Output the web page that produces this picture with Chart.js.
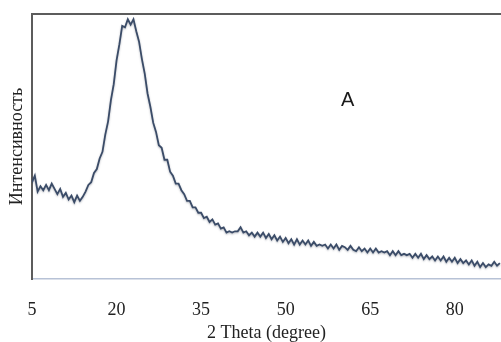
<!DOCTYPE html>
<html>
<head>
<meta charset="utf-8">
<script src="https://cdn.jsdelivr.net/npm/chart.js@4/dist/chart.umd.min.js"></script>
<style>
  html, body { margin: 0; padding: 0; background: #fff; }
  #wrap { width: 501px; height: 342px; }
</style>
</head>
<body>
<div id="wrap"><canvas id="xrd"></canvas></div>
<script>
(function () {
  'use strict';

  // 2 theta positions (degrees)
  const THETA = [
    5, 5.5, 6, 6.5, 7, 7.5, 8, 8.5, 9, 9.5, 10, 10.5, 11, 11.5, 12, 12.5, 13, 13.5, 14, 14.5,
    15, 15.5, 16, 16.5, 17, 17.5, 18, 18.5, 19, 19.5, 20, 20.5, 21, 21.5, 22, 22.5, 23, 23.5, 24, 24.5,
    25, 25.5, 26, 26.5, 27, 27.5, 28, 28.5, 29, 29.5, 30, 30.5, 31, 31.5, 32, 32.5, 33, 33.5, 34, 34.5,
    35, 35.5, 36, 36.5, 37, 37.5, 38, 38.5, 39, 39.5, 40, 40.5, 41, 41.5, 42, 42.5, 43, 43.5, 44, 44.5,
    45, 45.5, 46, 46.5, 47, 47.5, 48, 48.5, 49, 49.5, 50, 50.5, 51, 51.5, 52, 52.5, 53, 53.5, 54, 54.5,
    55, 55.5, 56, 56.5, 57, 57.5, 58, 58.5, 59, 59.5, 60, 60.5, 61, 61.5, 62, 62.5, 63, 63.5, 64, 64.5,
    65, 65.5, 66, 66.5, 67, 67.5, 68, 68.5, 69, 69.5, 70, 70.5, 71, 71.5, 72, 72.5, 73, 73.5, 74, 74.5,
    75, 75.5, 76, 76.5, 77, 77.5, 78, 78.5, 79, 79.5, 80, 80.5, 81, 81.5, 82, 82.5, 83, 83.5, 84, 84.5,
    85, 85.5, 86, 86.5, 87, 87.5, 88
  ];

  // intensity, arbitrary units (0..100)
  const INTENSITY = [
    36.5, 39, 33, 35, 33.5, 35.5, 33.5, 36, 34, 32, 34, 31, 32.5, 30, 31.5, 29, 31.5, 29.5, 31, 33,
    35.5, 36.5, 40, 41.5, 45.5, 48, 54.5, 59.5, 67.5, 73.5, 82.5, 88.5, 95.5, 95, 98, 96, 98, 93.5, 89.5, 83,
    77.5, 70, 65, 59, 55.5, 50.5, 49.5, 45, 45, 40.5, 39, 36, 36, 33.5, 32, 29.5, 29.5, 27, 27, 25,
    25, 23, 23.5, 21.5, 22.5, 20.5, 21, 19, 19.5, 17.5, 18, 17.5, 18, 18, 19.5, 17.5, 18, 16.5, 17.5, 16,
    17.5, 16, 17.5, 15.5, 17, 15, 16.5, 14.5, 16, 14, 15.5, 13.5, 15, 13, 15, 13, 14.5, 13, 14.5, 12.5,
    14, 12.5, 13, 12.5, 13, 11.5, 13, 11.5, 13, 11, 12.5, 12, 11, 12.5, 11, 10.5, 12, 10.5, 11.5, 10,
    11.5, 10, 11.5, 10, 10.5, 10, 10.5, 9, 10.5, 9, 10.5, 9, 9.5, 9, 9.5, 8, 9.5, 8, 9.5, 7.5,
    9, 7.5, 8.5, 7, 8.5, 7, 8.5, 6.5, 8, 6.5, 8, 6, 7.5, 6, 7, 5.5, 7, 5, 6.5, 4.5,
    6, 4.5, 5.5, 5, 6.5, 5, 6
  ];

  const X_TICKS = [5, 20, 35, 50, 65, 80];
  const X_TITLE = '2 Theta (degree)';
  const Y_TITLE = 'Интенсивность';
  const PANEL_LABEL = 'A';

  const LINE_COLOR  = '#3b4c68';
  const FRAME_COLOR = '#5c5c5c';
  const AXIS_COLOR  = '#b7c2d6';
  const SERIF = '"Liberation Serif", "Times New Roman", serif';

  const points = THETA.map(function (t, i) { return { x: t, y: INTENSITY[i] }; });

  // top frame line + panel letter
  const framePlugin = {
    id: 'frame',
    beforeDatasetsDraw: function (chart) {
      const ctx = chart.ctx;
      const a = chart.chartArea;
      ctx.save();
      ctx.strokeStyle = FRAME_COLOR;
      ctx.lineWidth = 2;
      ctx.beginPath();
      ctx.moveTo(a.left - 1, a.top);
      ctx.lineTo(a.right, a.top);
      ctx.stroke();
      ctx.restore();

      // soft shadow under the trace, like the scanned original
      ctx.save();
      ctx.shadowColor = 'rgba(40, 50, 70, 0.35)';
      ctx.shadowBlur = 2;
      ctx.shadowOffsetY = 1;
    },
    afterDatasetsDraw: function (chart) {
      const ctx = chart.ctx;
      ctx.restore();
      const xs = chart.scales.x, ys = chart.scales.y;
      ctx.save();
      ctx.fillStyle = '#1a1a1a';
      ctx.font = '20px "Liberation Sans", Arial, sans-serif';
      ctx.textAlign = 'center';
      ctx.textBaseline = 'middle';
      ctx.fillText(PANEL_LABEL, xs.getPixelForValue(61), ys.getPixelForValue(67.5));
      ctx.restore();
    }
  };

  new Chart(document.getElementById('xrd'), {
    type: 'line',
    data: {
      datasets: [{
        data: points,
        borderColor: LINE_COLOR,
        borderWidth: 1.8,
        pointRadius: 0,
        tension: 0,
        fill: false
      }]
    },
    options: {
      responsive: true,
      maintainAspectRatio: false,
      animation: false,
      layout: { padding: { top: 14, right: 0, left: 0, bottom: 0 } },
      plugins: {
        legend: { display: false },
        tooltip: { enabled: false }
      },
      scales: {
        x: {
          type: 'linear',
          min: 5,
          max: 88.2,
          grid: { display: false },
          border: { display: true, color: AXIS_COLOR, width: 1.5 },
          afterBuildTicks: function (s) {
            s.ticks = X_TICKS.map(function (v) { return { value: v }; });
          },
          afterFit: function (s) { s.height = 63; },
          ticks: {
            autoSkip: false,
            maxRotation: 0,
            padding: 12,
            color: '#222',
            font: { family: SERIF, size: 18 }
          },
          title: {
            display: true,
            text: X_TITLE,
            color: '#222',
            font: { family: SERIF, size: 18, lineHeight: 1 },
            padding: { top: 0, bottom: 0 }
          }
        },
        y: {
          min: 0,
          max: 100,
          grid: { display: false },
          border: { display: true, color: FRAME_COLOR, width: 2 },
          afterFit: function (s) { s.width = 32; },
          ticks: { display: false },
          title: {
            display: true,
            text: Y_TITLE,
            color: '#222',
            font: { family: SERIF, size: 18, lineHeight: 1.2 },
            padding: { top: 6, bottom: 0 }
          }
        }
      }
    },
    plugins: [framePlugin]
  });
})();
</script>
</body>
</html>
